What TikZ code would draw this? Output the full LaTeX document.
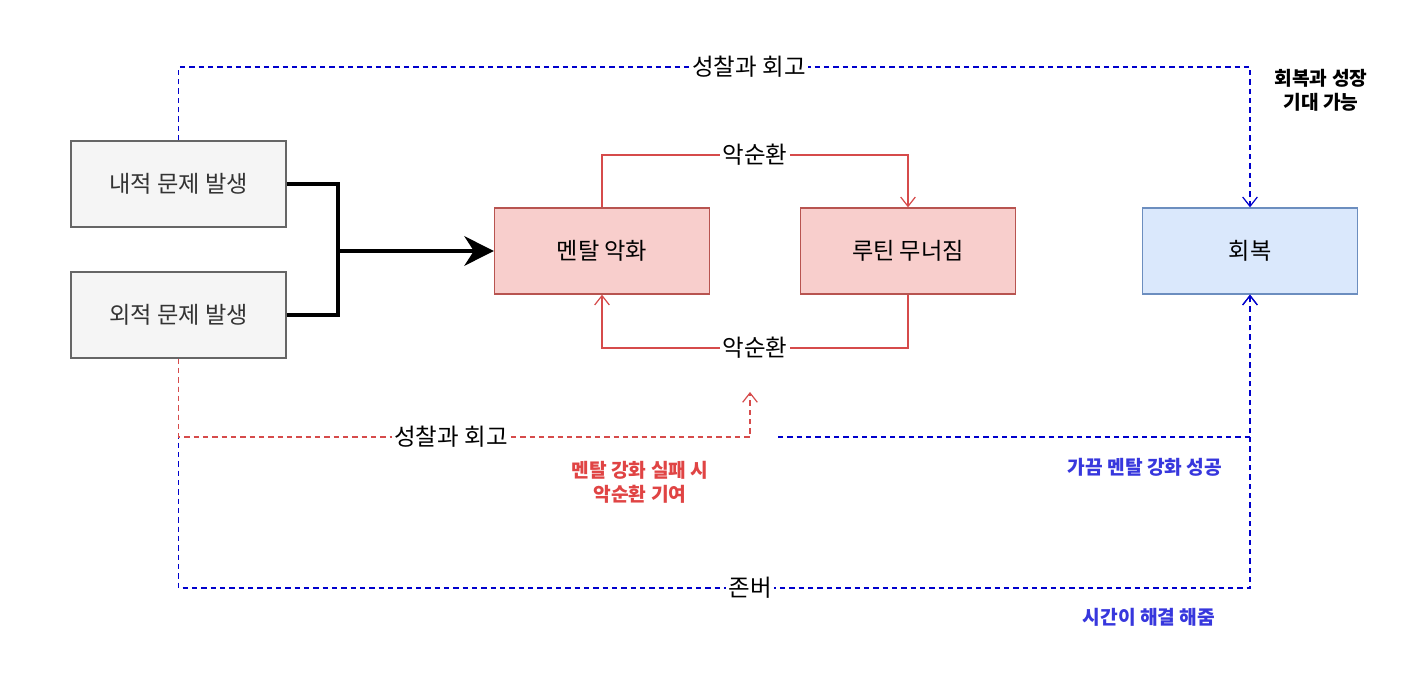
\documentclass[tikz,border=0pt]{standalone}
\usepackage{fontspec}
\setmainfont{Noto Sans CJK KR}
\usetikzlibrary{arrows.meta}
\definecolor{greyfill}{HTML}{F5F5F5}
\definecolor{greyline}{HTML}{666666}
\definecolor{redfill}{HTML}{F8CECC}
\definecolor{redline}{HTML}{B85450}
\definecolor{bluefill}{HTML}{DAE8FC}
\definecolor{blueline}{HTML}{6C8EBF}
\definecolor{loopred}{HTML}{D64B4B}
\definecolor{dashblue}{HTML}{0000CC}
\definecolor{textred}{HTML}{E04444}
\definecolor{textblue}{HTML}{3737DD}
\tikzset{
  box/.style={draw, line width=1pt, minimum width=161.25pt, minimum height=64.5pt, inner sep=0pt, font=\fontsize{17.4pt}{20pt}\selectfont},
  greybox/.style={box, fill=greyfill, draw=greyline, text=black!80},
  redbox/.style={box, fill=redfill, draw=redline},
  bluebox/.style={box, fill=bluefill, draw=blueline},
  opentip/.style={-{Straight Barb[length=7pt,width=11pt,line width=0.9pt]}},
  loopline/.style={draw=loopred, line width=1pt},
  bdash/.style={draw=dashblue, line width=1.1pt, dash pattern=on 4pt off 3pt},
  rdash/.style={draw=loopred, line width=1.1pt, dash pattern=on 4pt off 3pt},
  elabel/.style={fill=white, inner sep=2pt, font=\fontsize{17.6pt}{20pt}\selectfont},
  note/.style={align=center, font=\fontsize{14.4pt}{18pt}\selectfont\bfseries},
}
\begin{document}
\begin{tikzpicture}[x=0.75pt, y=-0.75pt]
\useasboundingbox[fill=white] (0,0) rectangle (1426,680);

\node[greybox] (n1) at (178.5,184) {내적 문제 발생};
\node[greybox] (n2) at (178.5,315) {외적 문제 발생};
\node[redbox] (m) at (602,251) {멘탈 악화};
\node[redbox] (r) at (908,251) {루틴 무너짐};
\node[bluebox] (rec) at (1250,251) {회복};

\coordinate (j) at (338,251);
\coordinate (t1) at (178.5,67);
\coordinate (b1) at (178.5,588);
\coordinate (rd1) at (178.5,437);
\coordinate (rdend) at (750,392);
\coordinate (bs) at (778,437);
\coordinate (lt1) at (602,155);
\coordinate (lb1) at (908,348);

% thick merge arrow
\draw[line width=3.6pt] (n1.east) -| (j);
\draw[line width=3.6pt] (n2.east) -| (j);
\draw[line width=3.6pt, -{Stealth[length=22pt,width=22pt,inset=7pt]}] (j) -- (m.west);

% red loop
\draw[loopline, opentip] (m.north) -- (lt1) -| (r.north);
\node[elabel] (la1) at (755,155) {악순환};
\draw[loopline, opentip] (r.south) -- (lb1) -| (m.south);
\node[elabel] (la2) at (755,348) {악순환};

% blue top
\draw[bdash, opentip] (n1.north) -- (t1) -| (rec.north);
\node[elabel] (lt) at (749,67) {성찰과 회고};

% blue bottom
\draw[bdash, opentip] (n2.south) -- (b1) -| (rec.south);
\node[elabel] (lz) at (750,588) {존버};

% blue short
\draw[bdash, opentip] (bs) -| (rec.south);

% red dashed
\draw[rdash, opentip] (n2.south) -- (rd1) -| (rdend);
\node[elabel] (lr) at (451,437) {성찰과 회고};

% notes
\node[note, text=black] (k1) at (1321,90) {회복과 성장\\기대 가능};
\node[note, text=textred] (k2) at (640,482) {멘탈 강화 실패 시\\악순환 기여};
\node[note, text=textblue] (k3) at (1145,467) {가끔 멘탈 강화 성공};
\node[note, text=textblue] (k4) at (1149,617) {시간이 해결 해줌};
\end{tikzpicture}
\end{document}
